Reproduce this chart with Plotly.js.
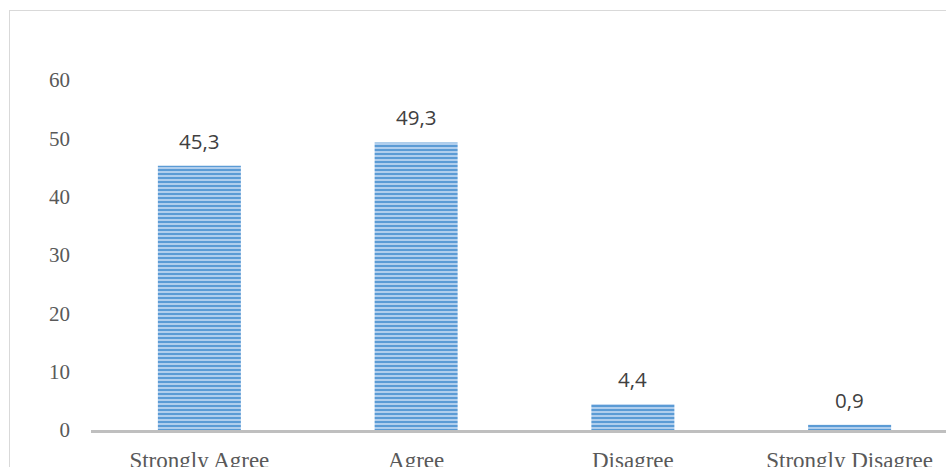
<!DOCTYPE html>
<html>
<head>
<meta charset="utf-8">
<script src="https://cdn.plot.ly/plotly-3.0.1.min.js"></script>
<style>
  html, body { margin: 0; padding: 0; background: #ffffff; overflow: hidden; width: 946px; height: 467px; }
  #chart { position: absolute; left: 0; top: 0; width: 1000px; height: 467px; }
  #frame { position: absolute; left: 9px; top: 10px; width: 1100px; height: 600px;
           border-left: 1px solid #d9d9d9; border-top: 1px solid #d9d9d9; pointer-events: none; }
</style>
</head>
<body>
<div id="chart"></div>
<div id="frame"></div>
<script>
// Survey response shares (%)
const categories = ["Strongly Agree", "Agree", "Disagree", "Strongly Disagree"];
const percentages = [45.3, 49.3, 4.4, 0.9];
const yTicks = [0, 10, 20, 30, 40, 50, 60];

const fmt = v => v.toFixed(1).replace('.', ',');

const trace = {
  type: 'bar',
  x: categories,
  y: percentages,
  marker: {
    color: '#5b9bd5',
    line: { width: 0 },
    pattern: {
      shape: '-',
      fgcolor: '#5b9bd5',
      bgcolor: '#b9d4f0',
      size: 4,
      solidity: 0.55,
      fillmode: 'replace'
    }
  },
  hoverinfo: 'skip'
};

const labels = categories.map((c, i) => ({
  x: c,
  y: percentages[i],
  xref: 'x',
  yref: 'y',
  text: fmt(percentages[i]),
  showarrow: false,
  yanchor: 'bottom',
  yshift: 9,
  font: { family: 'Open Sans, sans-serif', size: 20.5, color: '#404040' }
}));

const layout = {
  width: 1000,
  height: 467,
  margin: { l: 91, r: 42, t: 80, b: 37 },
  paper_bgcolor: 'rgba(0,0,0,0)',
  plot_bgcolor: 'rgba(0,0,0,0)',
  showlegend: false,
  bargap: 0.617,
  xaxis: {
    type: 'category',
    showgrid: false,
    zeroline: false,
    showline: true,
    linecolor: '#bfbfbf',
    linewidth: 3,
    ticks: '',
    ticklabelstandoff: 7,
    tickfont: { family: 'Liberation Serif, serif', size: 23, color: '#595959' }
  },
  yaxis: {
    range: [0, 60],
    tickvals: yTicks,
    ticktext: yTicks.map(String),
    showgrid: false,
    zeroline: false,
    showline: false,
    ticks: '',
    ticklabelstandoff: 20,
    tickfont: { family: 'Liberation Serif, serif', size: 21, color: '#595959' }
  },
  annotations: labels
};

Plotly.newPlot('chart', [trace], layout, { displayModeBar: false, staticPlot: true });
</script>
</body>
</html>
